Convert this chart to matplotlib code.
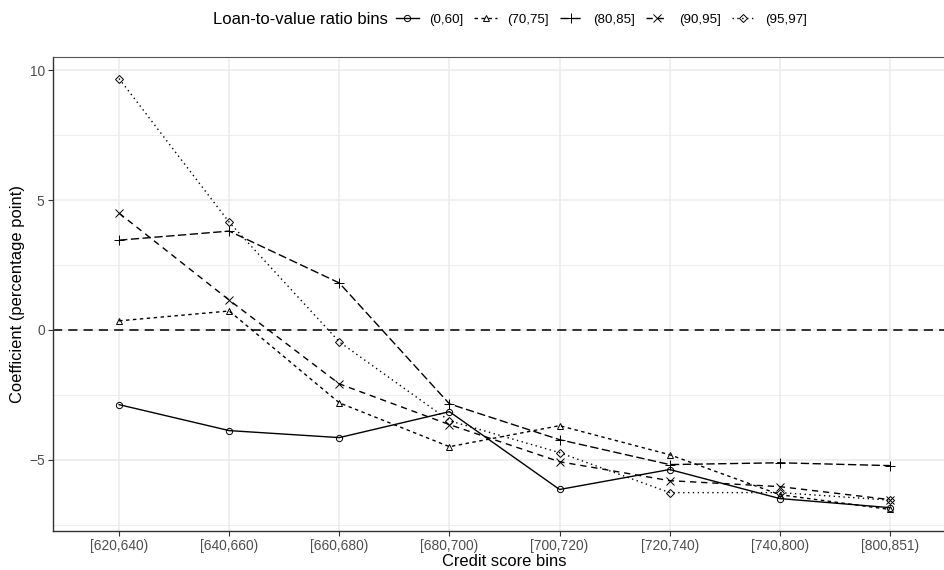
import matplotlib.pyplot as plt

plt.rcParams['font.family'] = ['Liberation Sans', 'DejaVu Sans']

credit_bins = ['[620,640)', '[640,660)', '[660,680)', '[680,700)',
               '[700,720)', '[720,740)', '[740,800)', '[800,851)']
ltv_bins = ['(0,60]', '(70,75]', '(80,85]', '(90,95]', '(95,97]']

coef_0_60 = [-2.88, -3.88, -4.15, -3.15, -6.15, -5.38, -6.50, -6.85]
coef_70_75 = [0.35, 0.73, -2.81, -4.50, -3.69, -4.81, -6.35, -6.92]
coef_80_85 = [3.46, 3.81, 1.81, -2.85, -4.23, -5.19, -5.12, -5.23]
coef_90_95 = [4.50, 1.15, -2.08, -3.65, -5.08, -5.81, -6.04, -6.54]
coef_95_97 = [9.69, 4.15, -0.46, -3.50, -4.73, -6.27, -6.27, -6.56]

series = [coef_0_60, coef_70_75, coef_80_85, coef_90_95, coef_95_97]
markers = ['o', '^', '+', 'x', 'D']
msizes = [4.5, 5, 7, 6, 4.5]
dashes = [None, (2.5, 2.5), (6, 2.5), (4.5, 3.5), (1, 2.5)]

fig = plt.figure(figsize=(9.44, 5.7), dpi=100)
# panel runs a bit past the right edge, as in the original
ax = fig.add_axes([53 / 944, 1 - 531 / 570, (956 - 53) / 944, (531 - 57) / 570])

x = list(range(1, len(credit_bins) + 1))
ax.axhline(0, color='black', lw=1.1, dashes=(6, 4), zorder=1)

handles = []
for vals, lab, m, ms, d in zip(series, ltv_bins, markers, msizes, dashes):
    kw = dict(color='black', lw=1.0, marker=m, ms=ms, mfc='none', mec='black',
              mew=0.7, zorder=3)
    if d is None:
        ln, = ax.plot(x, vals, ls='-', label=lab, **kw)
    else:
        ln, = ax.plot(x, vals, dashes=d, label=lab, **kw)
    handles.append(ln)

ax.set_xlim(0.4, 8.6)
ax.set_ylim(-7.75, 10.52)
ax.set_xticks(x)
ax.set_xticklabels(credit_bins)
ax.set_yticks([-5, 0, 5, 10])
ax.set_yticks([-7.5, -2.5, 2.5, 7.5], minor=True)
ax.grid(which='major', color='#EBEBEB', lw=1.1, zorder=0)
ax.grid(which='minor', axis='y', color='#EBEBEB', lw=0.6, zorder=0)
ax.set_axisbelow(True)
ax.tick_params(which='major', length=3.5, width=0.8, color='#333333',
               labelsize=9.9, labelcolor='#4D4D4D', pad=2.5)
ax.tick_params(which='minor', length=0)
for side in ['left', 'bottom']:
    ax.spines[side].set_color('#333333')
    ax.spines[side].set_linewidth(1.0)
ax.spines['top'].set_color('#555555')
ax.spines['top'].set_linewidth(0.8)
ax.spines['right'].set_visible(False)

ax.set_xlabel('Credit score bins', fontsize=11.9, labelpad=0.5)
ax.set_ylabel('Coefficient (percentage point)', fontsize=11.9, labelpad=3)

fig.text(213 / 944, 1 - 20 / 570, 'Loan-to-value ratio bins', fontsize=12,
         va='center', ha='left')
fig.legend(handles=handles, labels=ltv_bins, loc='center left',
           bbox_to_anchor=(396 / 944, 1 - 20 / 570), ncol=5, frameon=False,
           fontsize=9.6, handlelength=1.7, handletextpad=0.8,
           columnspacing=0.8, borderpad=0, borderaxespad=0)

fig.savefig('out.png', dpi=100)
